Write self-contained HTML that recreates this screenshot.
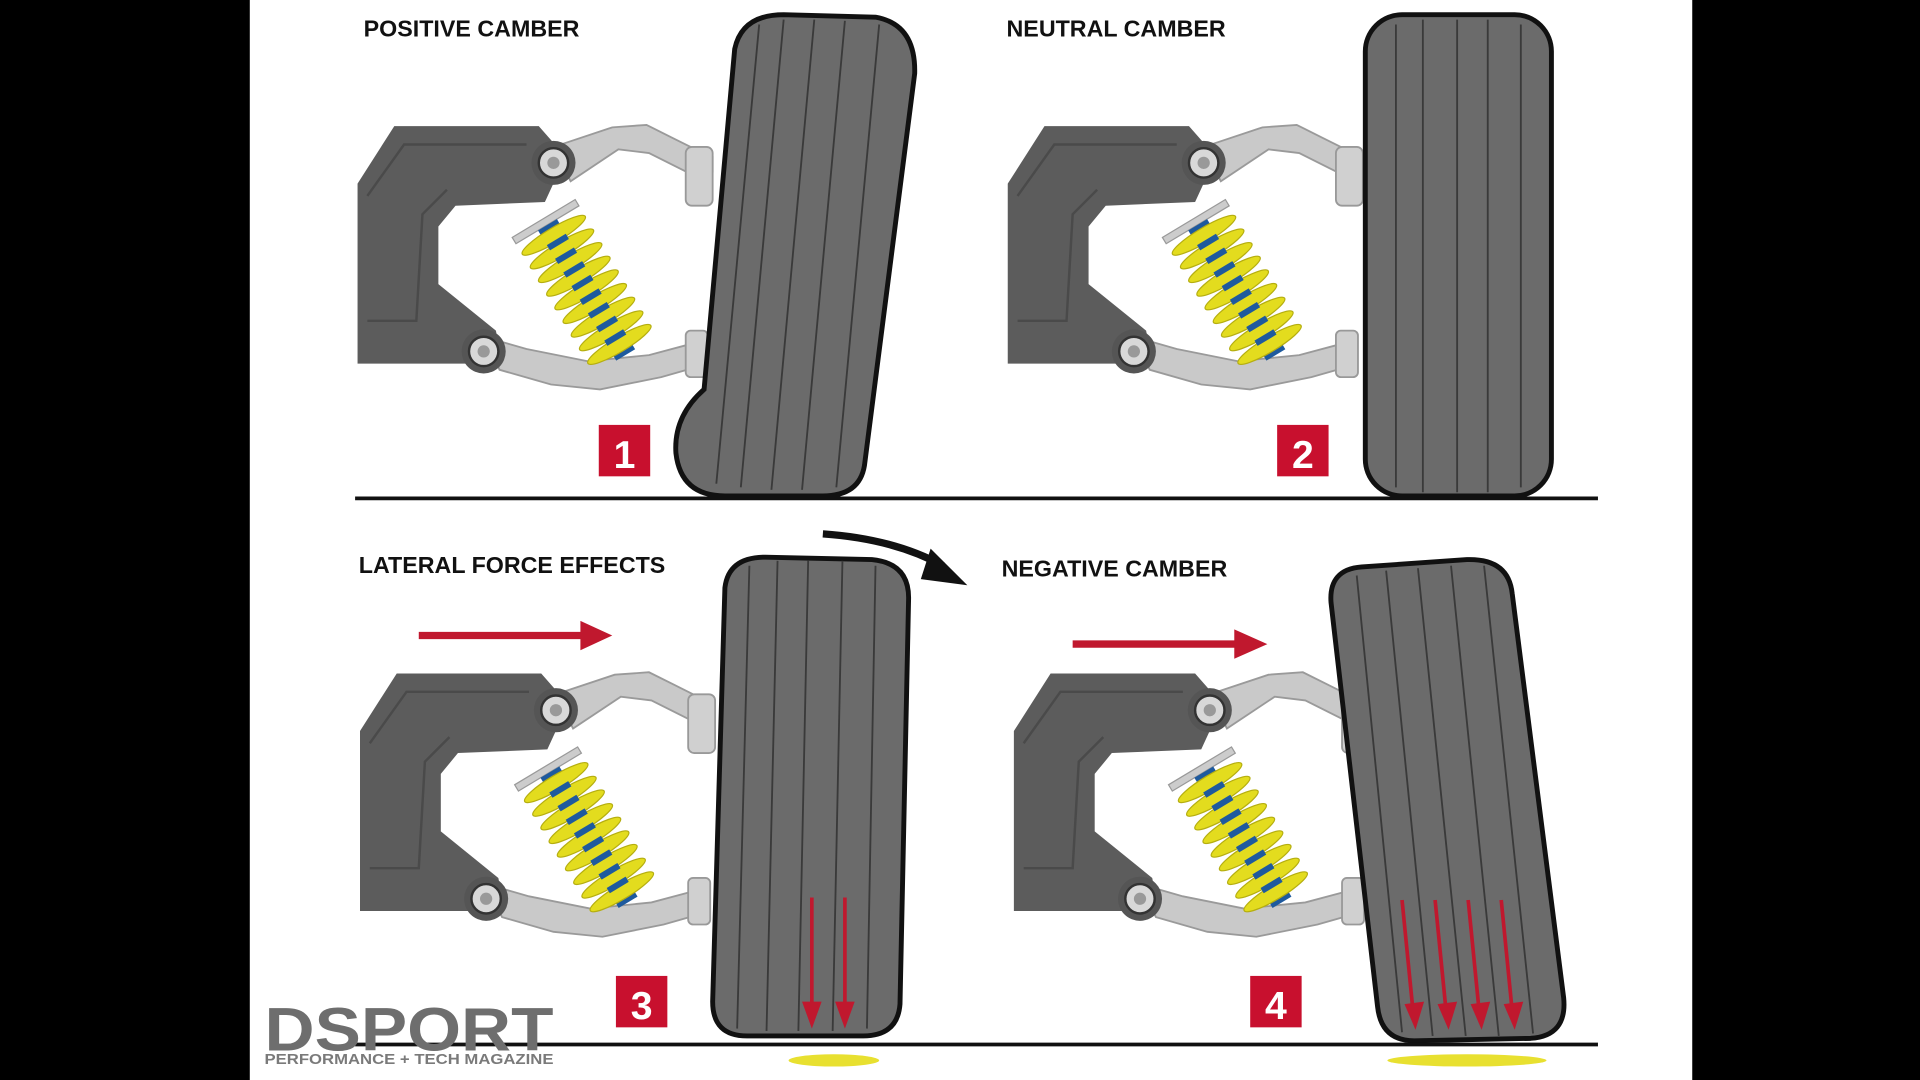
<!DOCTYPE html>
<html><head><meta charset="utf-8"><style>
html,body{margin:0;padding:0;background:#000;width:1920px;height:1080px;overflow:hidden}
svg{display:block}
text{font-family:"Liberation Sans",sans-serif;font-weight:bold}
</style></head><body>
<svg width="1920" height="1080" viewBox="0 0 1568 882" xmlns="http://www.w3.org/2000/svg">
<defs>
<g id="susp">
  <path d="M292,150 L322,103 L440,103 L462,128 L445,165 L372,168 L358,185 L358,232 L405,270 L410,297 L292,297 Z" fill="#5c5c5c"/>
  <path d="M300,160 L330,118 L430,118" fill="none" stroke="#4a4a4a" stroke-width="2"/>
  <path d="M300,262 L340,262 L345,175 L365,155" fill="none" stroke="#4a4a4a" stroke-width="2"/>
  <path d="M452,120 L500,104 L528,102 L548,112 L572,124 L582,128 L582,140 L560,140 L530,125 L505,122 L466,148 Z" fill="#c9c9c9" stroke="#9a9a9a" stroke-width="1.5"/>
  <rect x="560" y="120" width="22" height="48" rx="5" fill="#d0d0d0" stroke="#999" stroke-width="1.5"/>
  <path d="M395,275 L430,285 L480,295 L530,290 L560,282 L575,278 L575,298 L540,308 L490,318 L450,314 L408,302 Z" fill="#c9c9c9" stroke="#9a9a9a" stroke-width="1.5"/>
  <rect x="560" y="270" width="18" height="38" rx="4" fill="#d0d0d0" stroke="#999" stroke-width="1.5"/>
  <circle cx="452" cy="133" r="18" fill="#555"/><circle cx="452" cy="133" r="12" fill="#d8d8d8" stroke="#333" stroke-width="2"/><circle cx="452" cy="133" r="5" fill="#999"/>
  <circle cx="395" cy="287" r="18" fill="#555"/><circle cx="395" cy="287" r="12" fill="#d8d8d8" stroke="#333" stroke-width="2"/><circle cx="395" cy="287" r="5" fill="#999"/>
  <g transform="translate(478,235) rotate(-31)">
    <rect x="-30" y="-66" width="60" height="6" fill="#ccc" stroke="#999"/>
    <rect x="-9" y="-60" width="18" height="124" fill="#1e5a9e"/>
    <g fill="#e3dc1e" stroke="#b5ae10" stroke-width="1">
      <ellipse cx="0" cy="-50" rx="30" ry="6"/><ellipse cx="0" cy="-37" rx="30" ry="6"/><ellipse cx="0" cy="-24" rx="30" ry="6"/>
      <ellipse cx="0" cy="-11" rx="30" ry="6"/><ellipse cx="0" cy="2" rx="30" ry="6"/><ellipse cx="0" cy="15" rx="30" ry="6"/>
      <ellipse cx="0" cy="28" rx="30" ry="6"/><ellipse cx="0" cy="41" rx="30" ry="6"/><ellipse cx="0" cy="54" rx="30" ry="6"/>
    </g>
    <g fill="#1e5a9e">
      <rect x="-9" y="-46" width="18" height="5"/><rect x="-9" y="-33" width="18" height="5"/><rect x="-9" y="-20" width="18" height="5"/>
      <rect x="-9" y="-7" width="18" height="5"/><rect x="-9" y="6" width="18" height="5"/><rect x="-9" y="19" width="18" height="5"/>
      <rect x="-9" y="32" width="18" height="5"/><rect x="-9" y="45" width="18" height="5"/>
    </g>
  </g>
</g>
</defs>
<rect x="0" y="0" width="1568" height="882" fill="#000"/>
<rect x="204" y="0" width="1178" height="882" fill="#fff"/>

<use href="#susp"/>
<use href="#susp" transform="translate(531,0)"/>
<use href="#susp" transform="translate(2,447)"/>
<use href="#susp" transform="translate(536,447)"/>

<path d="M600,40 Q606,12 640,12 L715,14 Q748,20 747,60 L706,380 Q702,405 672,405 L592,405 Q556,405 552,370 Q550,340 575,318 Z" fill="#6b6b6b" stroke="#111" stroke-width="4"/>
<g stroke="#3a3a3a" stroke-width="1.5" fill="none">
<path d="M620,20 L585,395"/><path d="M640,16 L605,398"/><path d="M665,16 L630,400"/><path d="M690,17 L655,400"/><path d="M718,20 L683,398"/>
</g>
<rect x="1115" y="12" width="152" height="393" rx="30" fill="#6b6b6b" stroke="#111" stroke-width="4"/>
<g stroke="#3a3a3a" stroke-width="1.5"><path d="M1140,20V398M1162,16V402M1190,16V402M1215,16V402M1242,20V398"/></g>
<path d="M592,480 Q595,455 625,455 L712,457 Q743,460 742,490 L735,820 Q733,846 705,846 L610,846 Q582,846 582,818 Z" fill="#6b6b6b" stroke="#111" stroke-width="4"/>
<g stroke="#3a3a3a" stroke-width="1.5"><path d="M612,462L602,840M635,458L626,842M660,458L652,842M688,458L680,842M715,462L708,840"/></g>
<path d="M1087,492 Q1085,465 1112,463 L1198,457 Q1232,456 1235,485 L1277,815 Q1280,846 1250,848 L1155,850 Q1128,850 1125,822 Z" fill="#6b6b6b" stroke="#111" stroke-width="4"/>
<g stroke="#3a3a3a" stroke-width="1.5"><path d="M1108,470L1145,843M1132,466L1170,846M1158,464L1197,846M1185,462L1224,846M1212,462L1252,844"/></g>

<line x1="290" y1="407" x2="1305" y2="407" stroke="#111" stroke-width="3"/>
<line x1="290" y1="853" x2="1305" y2="853" stroke="#111" stroke-width="3"/>
<ellipse cx="681" cy="866" rx="37" ry="5" fill="#e8e030"/>
<ellipse cx="1198" cy="866" rx="65" ry="5" fill="#e8e030"/>

<g fill="#c0182e" stroke="#c0182e">
<line x1="342" y1="519" x2="478" y2="519" stroke-width="6"/><polygon points="474,507 500,519 474,531" stroke="none"/>
<line x1="876" y1="526" x2="1012" y2="526" stroke-width="6"/><polygon points="1008,514 1035,526 1008,538" stroke="none"/>
<g stroke-width="3">
<line x1="663" y1="733" x2="663" y2="825"/><line x1="690" y1="733" x2="690" y2="825"/>
<line x1="1145" y1="735" x2="1154" y2="826"/><line x1="1172" y1="735" x2="1181" y2="826"/><line x1="1199" y1="735" x2="1208" y2="826"/><line x1="1226" y1="735" x2="1235" y2="826"/>
</g>
<g stroke="none">
<polygon points="655,818 671,818 663,840"/><polygon points="682,818 698,818 690,840"/>
<polygon points="1147,820 1163,818 1156,841"/><polygon points="1174,820 1190,818 1183,841"/><polygon points="1201,820 1217,818 1210,841"/><polygon points="1228,820 1244,818 1237,841"/>
</g>
</g>
<path d="M672,436 Q730,440 770,462" fill="none" stroke="#111" stroke-width="6"/>
<polygon points="760,448 790,478 752,473" fill="#111"/>

<g>
<rect x="489" y="347" width="42" height="42" fill="#c8102e"/><text x="510" y="382" font-size="32" fill="#fff" text-anchor="middle">1</text>
<rect x="1043" y="347" width="42" height="42" fill="#c8102e"/><text x="1064" y="382" font-size="32" fill="#fff" text-anchor="middle">2</text>
<rect x="503" y="797" width="42" height="42" fill="#c8102e"/><text x="524" y="832" font-size="32" fill="#fff" text-anchor="middle">3</text>
<rect x="1021" y="797" width="42" height="42" fill="#c8102e"/><text x="1042" y="832" font-size="32" fill="#fff" text-anchor="middle">4</text>
</g>

<g font-size="19" fill="#111">
<text x="297" y="30">POSITIVE CAMBER</text>
<text x="822" y="30">NEUTRAL CAMBER</text>
<text x="293" y="468">LATERAL FORCE EFFECTS</text>
<text x="818" y="471">NEGATIVE CAMBER</text>
</g>

<text x="216" y="858" font-size="50" fill="#6e6e6e" textLength="236" lengthAdjust="spacingAndGlyphs">DSPORT</text>
<text x="216" y="869" font-size="12" fill="#7a7a7a" textLength="236" lengthAdjust="spacingAndGlyphs">PERFORMANCE + TECH MAGAZINE</text>
</svg>
</body></html>
